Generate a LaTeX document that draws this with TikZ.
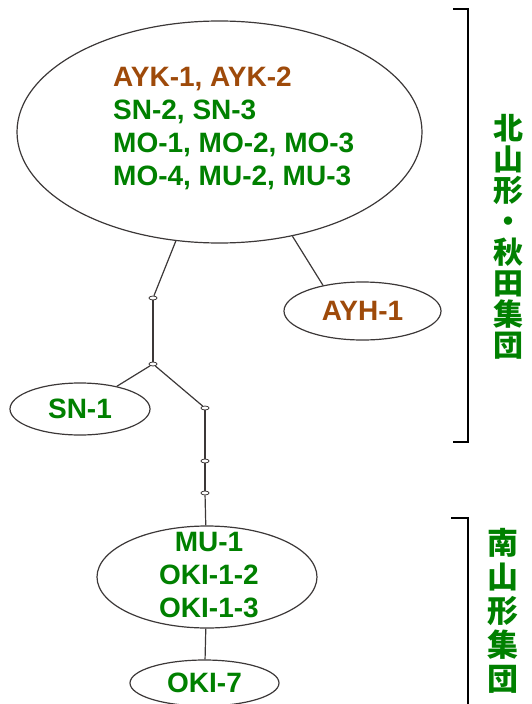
\documentclass[tikz,border=0pt]{standalone}
\usepackage{fontspec}
\setmainfont{Liberation Sans}
\newfontfamily\cjkfont{Noto Sans CJK JP}
\usetikzlibrary{shapes.geometric}

\definecolor{grpgreen}{RGB}{0,128,0}
\definecolor{grpbrown}{RGB}{158,74,10}
\definecolor{linegray}{RGB}{60,56,56}

\tikzset{
  haplo/.style={ellipse, draw=linegray, line width=1.2pt, inner sep=0pt,
    font=\bfseries\fontsize{28}{33}\selectfont},
  hapname/.style={inner sep=0pt, font=\bfseries\fontsize{28}{33}\selectfont},
  junc/.style={ellipse, draw=linegray, fill=white, line width=0.8pt,
    minimum width=8pt, minimum height=4pt, inner sep=0pt},
  link/.style={draw=linegray, line width=1.2pt},
  brace/.style={draw=black, line width=1.6pt},
  grouplabel/.style={text=grpgreen, align=center, inner sep=0pt},
}

\begin{document}
\begin{tikzpicture}[x=1pt,y=-1pt]
  \useasboundingbox (0,0) rectangle (532,704);

  % haplotype groups
  \node[haplo, minimum width=405pt, minimum height=222pt] (north) at (219.5,132) {};
  \node[hapname, align=left, anchor=north west] (northtext) at (113,67)
    {\textcolor{grpbrown}{AYK-1, AYK-2}\\
     \textcolor{grpgreen}{SN-2, SN-3}\\
     \textcolor{grpgreen}{MO-1, MO-2, MO-3}\\
     \textcolor{grpgreen}{MO-4, MU-2, MU-3}};
  \node[haplo, text=grpbrown, minimum width=157pt, minimum height=58pt] (ayh) at (362.5,311) {AYH-1};
  \node[haplo, text=grpgreen, minimum width=140pt, minimum height=52pt] (sn) at (80,409) {SN-1};
  \node[haplo, minimum width=220pt, minimum height=102pt] (mu) at (207,577) {};
  \node[hapname, text=grpgreen, align=center] (mutext) at (209,575)
    {MU-1\\OKI-1-2\\OKI-1-3};
  \node[haplo, text=grpgreen, minimum width=149pt, minimum height=46pt] (oki) at (204.5,683) {OKI-7};

  % median vectors
  \node[junc] (j1) at (153,298) {};
  \node[junc] (j2) at (153,364) {};
  \node[junc] (j3) at (205,408) {};
  \node[junc] (j4) at (205,461) {};
  \node[junc] (j5) at (205,493) {};

  % network links
  \draw[link] (north) -- (j1);
  \draw[link] (north.-55) -- (ayh.147);
  \draw[link] (j1) -- (j2);
  \draw[link] (j2) -- (sn);
  \draw[link] (j2) -- (j3);
  \draw[link] (j3) -- (j4);
  \draw[link] (j4) -- (j5);
  \draw[link] (j5) -- (mu);
  \draw[link] (mu) -- (oki);

  % group brackets
  \draw[brace] (453,9) -- (468,9) -- (468,442) -- (453,442);
  \draw[brace] (451,518) -- (468,518) -- (468,704);

  \node[grouplabel, font=\cjkfont\bfseries\fontsize{30}{31}\selectfont] (northgrp) at (508,237)
    {北\\山\\形\\・\\秋\\田\\集\\団};
  \node[grouplabel, font=\cjkfont\bfseries\fontsize{31}{34}\selectfont] (southgrp) at (503,611)
    {南\\山\\形\\集\\団};
\end{tikzpicture}
\end{document}
